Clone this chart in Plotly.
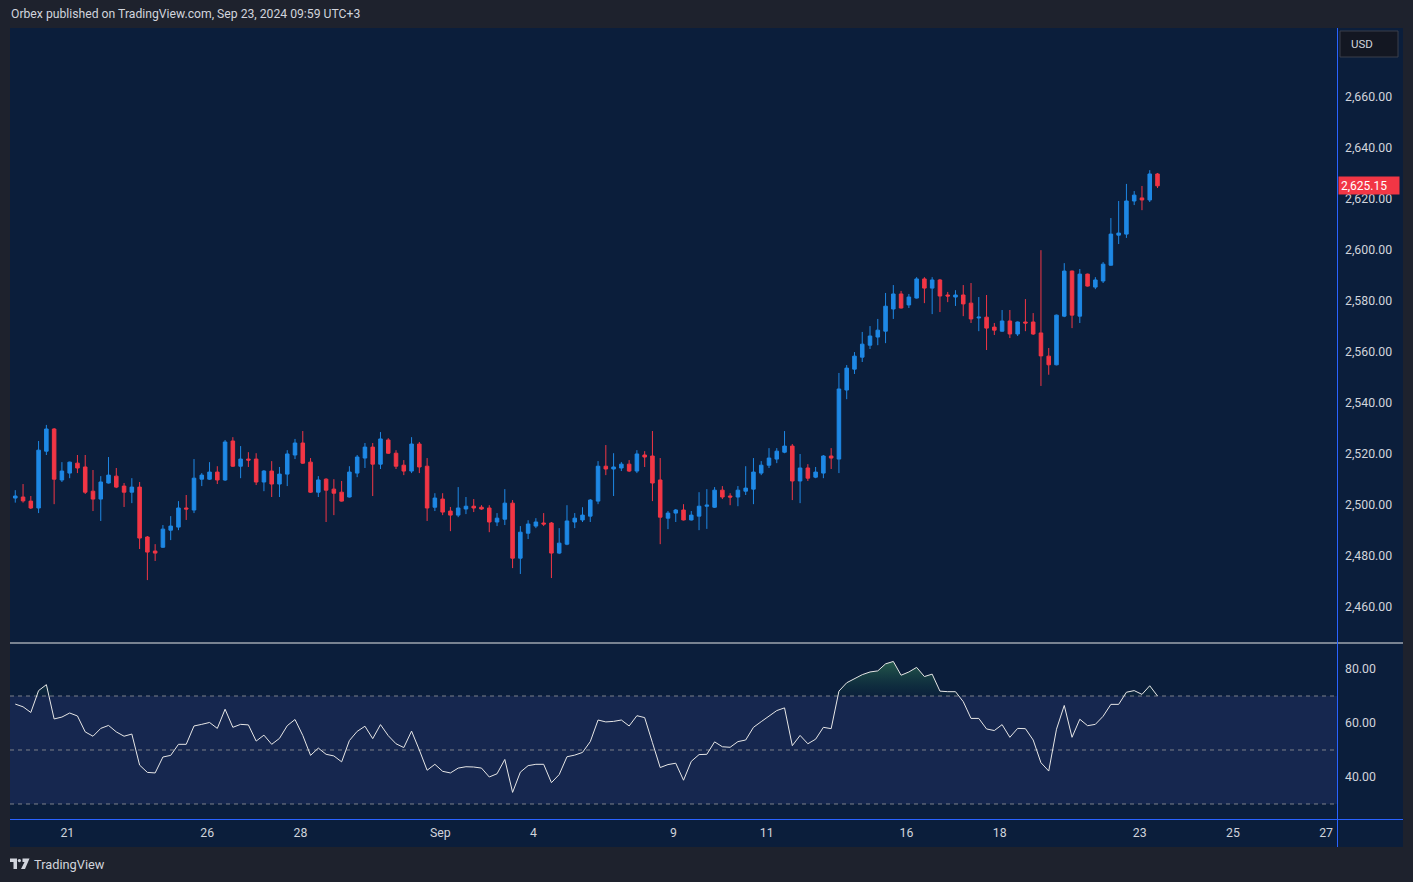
import plotly.graph_objects as go

# ---------------- data (4h candles, XAU/USD) ----------------
opens = [2502.6, 2503.0, 2501.4, 2498.7, 2521.0, 2529.7, 2509.7, 2512.4, 2516.3, 2514.8,
         2505.3, 2502.2, 2508.5, 2511.2, 2507.3, 2504.9, 2506.9, 2487.3, 2481.8, 2483.3,
         2490.0, 2491.2, 2498.7, 2497.9, 2510.0, 2510.0, 2512.8, 2509.7, 2525.0, 2515.1,
         2517.9, 2517.9, 2508.9, 2513.2, 2508.1, 2512.0, 2519.5, 2524.2, 2516.7, 2504.9,
         2510.0, 2506.1, 2504.9, 2503.0, 2512.4, 2518.3, 2522.6, 2515.9, 2525.4, 2520.2,
         2515.5, 2513.2, 2523.8, 2515.1, 2499.0, 2502.2, 2497.5, 2495.9, 2498.3, 2499.4,
         2499.0, 2498.7, 2493.2, 2494.3, 2500.6, 2479.0, 2488.8, 2491.6, 2492.8, 2492.8,
         2481.0, 2484.5, 2493.2, 2494.0, 2495.5, 2501.4, 2515.1, 2514.0, 2514.4, 2515.9,
         2513.2, 2519.5, 2519.1, 2509.7, 2494.7, 2496.7, 2497.9, 2494.0, 2495.5, 2499.4,
         2499.0, 2505.7, 2503.4, 2503.0, 2505.3, 2506.1, 2512.4, 2515.5, 2517.9, 2520.6,
         2523.0, 2509.3, 2514.4, 2510.8, 2512.4, 2519.1, 2517.9, 2545.0, 2553.2, 2557.9,
         2562.6, 2565.8, 2568.1, 2576.8, 2582.7, 2578.4, 2581.1, 2588.6, 2585.0, 2588.2,
         2582.3, 2581.5, 2582.3, 2579.1, 2573.3, 2573.6, 2569.7, 2568.1, 2572.1, 2567.0,
         2571.7, 2571.7, 2567.4, 2558.3, 2554.9, 2574.0, 2591.7, 2574.0, 2590.5, 2585.4,
         2587.8, 2594.0, 2605.8, 2606.2, 2619.2, 2620.4, 2619.6, 2629.8]
highs = [2505.7, 2508.1, 2503.4, 2525.0, 2531.3, 2530.1, 2516.7, 2516.9, 2519.5, 2519.5,
         2513.6, 2511.2, 2518.7, 2514.4, 2508.5, 2510.4, 2508.9, 2487.7, 2484.5, 2492.0,
         2495.5, 2501.4, 2503.8, 2517.9, 2512.4, 2516.7, 2515.1, 2525.4, 2526.5, 2523.0,
         2520.6, 2520.2, 2513.6, 2517.1, 2514.8, 2521.4, 2525.8, 2528.9, 2518.3, 2511.2,
         2510.4, 2510.0, 2509.3, 2515.1, 2519.5, 2524.2, 2524.2, 2528.5, 2526.1, 2521.4,
         2517.5, 2526.5, 2524.6, 2518.3, 2504.5, 2504.5, 2499.1, 2506.9, 2503.0, 2502.2,
         2499.8, 2499.8, 2496.7, 2506.1, 2501.8, 2491.6, 2493.9, 2494.7, 2496.7, 2493.2,
         2490.8, 2499.8, 2496.7, 2499.0, 2502.2, 2517.1, 2523.4, 2520.2, 2516.7, 2517.5,
         2521.4, 2521.0, 2528.9, 2518.3, 2497.5, 2498.3, 2500.2, 2497.5, 2504.9, 2506.1,
         2506.9, 2507.3, 2504.5, 2507.3, 2515.1, 2518.3, 2517.1, 2522.2, 2522.2, 2528.9,
         2523.8, 2519.9, 2515.9, 2514.8, 2519.5, 2522.2, 2551.7, 2554.8, 2559.9, 2567.8,
         2570.1, 2572.9, 2583.1, 2586.2, 2583.9, 2582.7, 2589.3, 2589.3, 2589.3, 2588.6,
         2583.5, 2584.2, 2586.2, 2587.0, 2581.5, 2582.3, 2571.3, 2576.4, 2576.4, 2571.9,
         2580.7, 2575.2, 2599.9, 2561.5, 2574.6, 2594.8, 2591.9, 2592.5, 2590.7, 2589.3,
         2595.2, 2612.5, 2619.2, 2625.9, 2623.1, 2625.1, 2631.3, 2630.2]
lows = [2500.8, 2500.8, 2498.3, 2496.7, 2519.5, 2500.2, 2508.9, 2510.4, 2512.4, 2504.2,
        2497.5, 2493.6, 2508.3, 2506.5, 2499.1, 2500.6, 2482.6, 2470.4, 2477.9, 2483.0,
        2486.1, 2490.0, 2494.0, 2496.7, 2507.3, 2509.7, 2508.1, 2509.3, 2514.8, 2510.4,
        2514.8, 2507.7, 2505.3, 2503.0, 2503.0, 2507.3, 2517.9, 2516.0, 2504.6, 2503.0,
        2493.2, 2495.9, 2501.2, 2502.8, 2510.8, 2514.4, 2503.4, 2514.0, 2519.9, 2514.0,
        2511.6, 2512.4, 2512.4, 2493.6, 2497.5, 2495.9, 2489.6, 2495.1, 2496.3, 2497.1,
        2498.0, 2489.2, 2491.6, 2492.0, 2475.1, 2472.8, 2486.5, 2490.8, 2491.6, 2471.2,
        2480.6, 2484.1, 2490.8, 2493.2, 2493.2, 2500.2, 2511.6, 2503.4, 2513.2, 2512.8,
        2512.4, 2514.8, 2501.4, 2484.5, 2490.4, 2493.2, 2493.8, 2493.8, 2490.0, 2490.5,
        2498.7, 2502.2, 2499.8, 2499.4, 2503.8, 2500.2, 2511.6, 2514.4, 2516.3, 2520.2,
        2501.8, 2500.6, 2509.3, 2510.4, 2510.4, 2514.0, 2512.4, 2541.4, 2551.3, 2556.0,
        2561.1, 2562.6, 2563.4, 2572.9, 2577.0, 2577.2, 2580.9, 2579.1, 2574.8, 2575.6,
        2579.5, 2578.0, 2574.0, 2571.3, 2568.1, 2560.7, 2566.6, 2567.9, 2565.4, 2566.2,
        2568.1, 2566.6, 2546.6, 2551.0, 2554.7, 2573.6, 2569.3, 2571.3, 2585.6, 2584.6,
        2587.0, 2593.8, 2602.3, 2604.7, 2617.6, 2615.6, 2618.8, 2624.3]
closes = [2503.4, 2501.5, 2498.7, 2521.4, 2529.7, 2510.0, 2513.2, 2516.7, 2514.4, 2504.9,
          2502.2, 2508.9, 2511.6, 2506.9, 2504.9, 2506.9, 2486.9, 2481.4, 2481.0, 2490.4,
          2491.6, 2498.7, 2498.3, 2510.4, 2511.6, 2512.8, 2509.7, 2524.6, 2515.1, 2517.9,
          2517.5, 2508.9, 2513.2, 2508.1, 2512.0, 2519.9, 2524.2, 2516.3, 2504.9, 2509.7,
          2505.7, 2504.5, 2501.4, 2512.8, 2518.7, 2522.6, 2515.9, 2525.8, 2520.2, 2515.1,
          2513.2, 2523.8, 2514.8, 2498.7, 2502.6, 2497.1, 2495.9, 2498.7, 2499.4, 2498.7,
          2498.3, 2493.2, 2494.7, 2500.6, 2479.0, 2489.2, 2492.4, 2493.2, 2492.4, 2481.0,
          2484.9, 2493.6, 2494.7, 2495.9, 2501.8, 2515.1, 2514.0, 2514.8, 2515.9, 2513.2,
          2519.9, 2518.7, 2508.5, 2495.1, 2496.7, 2497.9, 2494.0, 2495.9, 2499.4, 2499.8,
          2505.7, 2503.0, 2503.0, 2505.7, 2506.5, 2512.8, 2515.5, 2518.3, 2521.0, 2523.0,
          2509.3, 2514.4, 2510.4, 2512.8, 2519.1, 2518.3, 2545.4, 2553.6, 2558.3, 2563.0,
          2566.2, 2568.5, 2577.9, 2582.7, 2577.2, 2581.5, 2588.6, 2585.0, 2588.2, 2581.9,
          2581.9, 2582.3, 2578.8, 2572.9, 2573.6, 2569.3, 2568.5, 2572.1, 2567.0, 2571.7,
          2571.3, 2567.0, 2558.4, 2554.9, 2574.4, 2591.7, 2574.4, 2590.5, 2585.8, 2588.2,
          2594.4, 2606.2, 2606.6, 2619.2, 2621.5, 2619.6, 2629.8, 2625.15]
rsi = [67.0, 66.0, 63.9, 72.0, 74.2, 61.5, 62.2, 63.7, 62.6, 56.7,
       55.1, 58.0, 59.1, 56.7, 55.1, 55.9, 44.4, 41.7, 41.5, 47.4,
       48.0, 52.1, 52.1, 58.9, 59.5, 60.2, 58.0, 65.1, 58.4, 59.5,
       59.3, 53.3, 55.5, 52.1, 54.3, 59.0, 61.3, 55.4, 48.0, 50.7,
       48.4, 47.8, 45.6, 53.5, 56.9, 58.8, 54.2, 59.4, 55.3, 52.3,
       50.9, 57.0, 50.0, 42.5, 44.7, 42.1, 41.5, 43.3, 43.8, 43.7,
       43.3, 40.0, 41.2, 46.5, 34.3, 41.8, 44.2, 44.7, 44.7, 37.9,
       40.9, 47.5, 48.1, 49.1, 53.1, 61.1, 60.4, 60.6, 61.1, 58.9,
       62.7, 62.0, 52.7, 43.5, 44.6, 45.1, 38.8, 45.8, 48.3, 48.4,
       53.0, 51.2, 51.0, 53.1, 53.7, 58.4, 60.5, 62.6, 64.6, 65.6,
       51.6, 55.4, 52.3, 54.0, 58.4, 57.9, 71.8, 74.9, 76.3, 77.9,
       78.9, 79.3, 81.9, 82.8, 77.7, 78.9, 80.6, 77.2, 78.1, 71.8,
       71.6, 71.6, 67.9, 61.7, 61.7, 57.8, 57.2, 59.4, 54.7, 58.0,
       57.9, 53.7, 45.3, 42.2, 57.7, 66.5, 54.7, 61.4, 59.0, 59.5,
       62.5, 66.9, 66.9, 71.4, 72.0, 70.6, 73.8, 70.0]
day_labels = ["21", "26", "28", "Sep", "4", "9", "11", "16", "18", "23", "25", "27"]
day_start_idx = [7, 25, 37, 55, 67, 85, 97, 115, 127, 145, 157, 169]
price_ticks = [2460, 2480, 2500, 2520, 2540, 2560, 2580, 2600, 2620, 2640, 2660]
rsi_ticks = [40, 60, 80]
rsi_levels = [70, 50, 30]
last_price = closes[-1]
title_text = "Orbex published on TradingView.com, Sep 23, 2024 09:59 UTC+3"

# ---------------- style ----------------
W, H = 1413, 882
OUTER = "#1e222d"
BG = "#0b1e3b"
BAND = "#16274f"
BLUE = "#1e88e5"
RED = "#f23645"
TXT = "#d1d4dc"
FONT = "Roboto"


def fx(p):
    return p / W


def fy(p):
    return 1 - p / H


idx = list(range(len(opens)))
xr = [-0.68, 170.1]

fig = go.Figure()
fig.add_trace(go.Candlestick(
    x=idx, open=opens, high=highs, low=lows, close=closes,
    increasing=dict(line=dict(color=BLUE, width=1), fillcolor=BLUE),
    decreasing=dict(line=dict(color=RED, width=1), fillcolor=RED),
    whiskerwidth=0, hoverinfo="skip", xaxis="x", yaxis="y", showlegend=False))

# overbought fill (above 70)
ob_base = [rsi_levels[0]] * len(rsi)
ob_top = [max(v, rsi_levels[0]) for v in rsi]
fig.add_trace(go.Scatter(x=idx, y=ob_base, mode="lines", line=dict(width=0),
                         xaxis="x2", yaxis="y2", hoverinfo="skip", showlegend=False))
fig.add_trace(go.Scatter(x=idx, y=ob_top, mode="lines", line=dict(width=0),
                         fill="tonexty",
                         fillgradient=dict(type="vertical",
                                           colorscale=[[0, "rgba(20,90,70,0.05)"],
                                                       [1, "rgba(60,140,90,0.55)"]]),
                         xaxis="x2", yaxis="y2", hoverinfo="skip", showlegend=False))
fig.add_trace(go.Scatter(x=idx, y=rsi, mode="lines", line=dict(color="#e6e6e6", width=1),
                         xaxis="x2", yaxis="y2", hoverinfo="skip", showlegend=False))

shapes = [
    dict(type="rect", xref="paper", yref="paper", x0=fx(10), x1=fx(1403), y0=fy(847), y1=fy(28),
         fillcolor=BG, line=dict(width=0), layer="below"),
    dict(type="rect", xref="x2 domain", yref="y2", x0=0, x1=1, y0=rsi_levels[2], y1=rsi_levels[0],
         fillcolor=BAND, line=dict(width=0), layer="below"),
]
for lv in rsi_levels:
    shapes.append(dict(type="line", xref="x2 domain", yref="y2", x0=0, x1=1, y0=lv, y1=lv,
                       line=dict(color="#7d808a", width=1, dash="4px,4px"), layer="below"))
shapes += [
    dict(type="line", xref="paper", yref="paper", x0=fx(10), x1=fx(1403), y0=fy(643), y1=fy(643),
         line=dict(color="#e8e8e8", width=1)),
    dict(type="line", xref="paper", yref="paper", x0=fx(1337.5), x1=fx(1337.5), y0=fy(847), y1=fy(28),
         line=dict(color="#2962ff", width=1)),
    dict(type="line", xref="paper", yref="paper", x0=fx(10), x1=fx(1403), y0=fy(819.5), y1=fy(819.5),
         line=dict(color="#2962ff", width=1)),
    # USD button
    dict(type="rect", xref="paper", yref="paper", x0=fx(1340), x1=fx(1398), y0=fy(57), y1=fy(31),
         fillcolor="#131722", line=dict(color="#3a3e4a", width=1)),
    # TradingView logo
    dict(type="path", xref="paper", yref="paper",
         path=f"M {fx(10)},{fy(858.5)} L {fx(17)},{fy(858.5)} L {fx(17)},{fy(869)} L {fx(13.5)},{fy(869)} "
              f"L {fx(13.5)},{fy(862)} L {fx(10)},{fy(862)} Z",
         fillcolor=TXT, line=dict(width=0)),
    dict(type="circle", xref="paper", yref="paper", x0=fx(17.8), x1=fx(21), y0=fy(862.2), y1=fy(859),
         fillcolor=TXT, line=dict(width=0)),
    dict(type="path", xref="paper", yref="paper",
         path=f"M {fx(22.5)},{fy(858.5)} L {fx(29.5)},{fy(858.5)} L {fx(25)},{fy(869)} L {fx(21)},{fy(869)} "
              f"L {fx(24.5)},{fy(862)} L {fx(22.5)},{fy(862)} Z",
         fillcolor=TXT, line=dict(width=0)),
]

annotations = [
    dict(xref="paper", yref="paper", x=fx(9), y=fy(14), xanchor="left", yanchor="middle",
         text=title_text, showarrow=False, font=dict(family=FONT, size=12.2, color=TXT)),
    dict(xref="paper", yref="paper", x=fx(1349), y=fy(44), xanchor="left", yanchor="middle",
         text="USD", showarrow=False, font=dict(family=FONT, size=11.5, color=TXT)),
    dict(xref="paper", yref="y", x=fx(1338), y=last_price, xanchor="left", yanchor="middle",
         text=f"{last_price:,.2f}", showarrow=False, bgcolor=RED, width=56, height=13, align="left",
         borderpad=2, font=dict(family=FONT, size=12, color="#ffffff")),
    dict(xref="paper", yref="paper", x=fx(32), y=fy(864), xanchor="left", yanchor="middle",
         text="TradingView", showarrow=False, font=dict(family=FONT, size=12.8, color=TXT)),
]

axis_common = dict(showgrid=False, zeroline=False, showline=False, ticks="", fixedrange=True)
fig.update_layout(
    width=W, height=H, margin=dict(l=0, r=0, t=0, b=0),
    paper_bgcolor=OUTER, plot_bgcolor="rgba(0,0,0,0)",
    boxgap=0.35, showlegend=False, hovermode=False,
    shapes=shapes, annotations=annotations,
    xaxis=dict(domain=[fx(10), fx(1337)], range=xr, anchor="y", showticklabels=False,
               rangeslider=dict(visible=False), **axis_common),
    yaxis=dict(domain=[fy(642), fy(28)], range=[2446.1, 2687.1], anchor="x", side="right",
               tickvals=price_ticks, ticktext=[f"{v:,.2f}" for v in price_ticks],
               tickfont=dict(family=FONT, size=12.3, color=TXT), ticklabelstandoff=7, **axis_common),
    xaxis2=dict(domain=[fx(10), fx(1337)], range=xr, anchor="y2",
                tickvals=[i - 0.3 for i in day_start_idx], ticktext=day_labels,
                tickfont=dict(family=FONT, size=12.3, color=TXT), ticklabelstandoff=5, **axis_common),
    yaxis2=dict(domain=[fy(819), fy(644)], range=[24.44, 89.26], anchor="x2", side="right",
                tickvals=rsi_ticks, ticktext=[f"{v:.2f}" for v in rsi_ticks],
                tickfont=dict(family=FONT, size=12.3, color=TXT), ticklabelstandoff=7, **axis_common),
)

fig.write_html("out.html", config={"displayModeBar": False},
               post_script="document.body.style.margin='0px';document.body.style.background='#1e222d';")
